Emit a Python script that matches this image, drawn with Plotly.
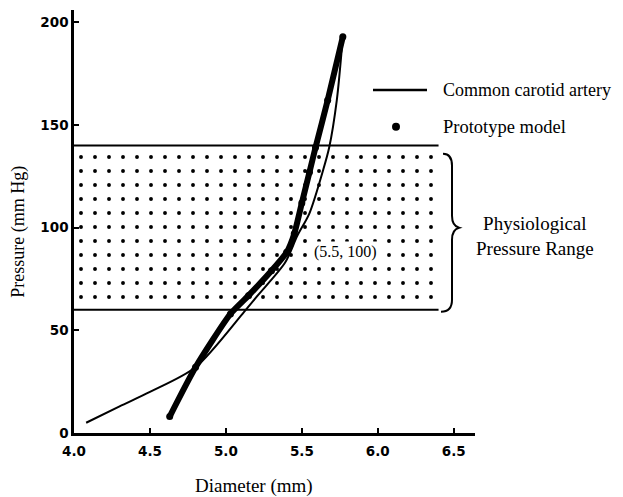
import plotly.graph_objects as go

# ---------------- data ----------------
carotid_diameter = [4.08, 4.30, 4.50, 4.80, 5.12, 5.21, 5.39, 5.47, 5.55, 5.64, 5.68, 5.73, 5.77]
carotid_pressure = [5, 13, 20, 32, 59, 67, 83, 96, 107, 128, 139, 162, 193]

prototype_diameter = [4.63, 4.80, 5.03, 5.15, 5.30, 5.40, 5.45, 5.50, 5.55, 5.59, 5.67, 5.77]
prototype_pressure = [8, 32, 58, 67, 79, 88, 97, 112, 127, 139, 162, 193]

range_low = 60
range_high = 140
range_d_min = 4.0
range_d_max = 6.4

x_ticks = [4.0, 4.5, 5.0, 5.5, 6.0, 6.5]
x_ticklabels = ["4.0", "4.5", "5.0", "5.5", "6.0", "6.5"]
y_ticks = [0, 50, 100, 150, 200]
y_ticklabels = ["0", "50", "100", "150", "200"]

# ---------------- layout helpers ----------------
OFF = 8  # default page body margin
W, H = 623 - OFF, 497 - OFF
ML, MR, MT, MB = 66, 148, 2, 63.5
PW, PH = W - ML - MR, H - MT - MB


def px(xw):
    """window pixel x -> paper coordinate"""
    return (xw - OFF - ML) / PW


def py(yw):
    """window pixel y -> paper coordinate"""
    return (H - MB - (yw - OFF)) / PH


SERIF = "Liberation Serif"

fig = go.Figure()

# physiological pressure range band (dotted)
fig.add_trace(go.Scatter(
    x=[range_d_min, range_d_max, range_d_max, range_d_min, range_d_min],
    y=[range_low, range_low, range_high, range_high, range_low],
    mode="none", fill="toself", fillcolor="white",
    fillpattern=dict(shape=".", fgcolor="black", bgcolor="white", fgopacity=1,
                     size=14, solidity=0.06),
    hoverinfo="skip", showlegend=False,
))
for level in (range_low, range_high):
    fig.add_trace(go.Scatter(
        x=[range_d_min, range_d_max], y=[level, level], mode="lines",
        line=dict(color="black", width=2), hoverinfo="skip", showlegend=False,
    ))

# common carotid artery
fig.add_trace(go.Scatter(
    x=carotid_diameter, y=carotid_pressure, mode="lines",
    line=dict(color="black", width=2, shape="spline", smoothing=0.8),
    name="Common carotid artery", showlegend=False,
))

# prototype model
fig.add_trace(go.Scatter(
    x=prototype_diameter, y=prototype_pressure, mode="lines+markers",
    line=dict(color="black", width=6, shape="spline", smoothing=0.6),
    marker=dict(color="black", size=7),
    name="Prototype model", showlegend=False,
))

shapes = []
annotations = []

# manual legend
shapes.append(dict(type="line", xref="paper", yref="paper",
                   x0=px(373), x1=px(427), y0=py(90), y1=py(90),
                   line=dict(color="black", width=2.5)))
shapes.append(dict(type="circle", xref="paper", yref="paper",
                   x0=px(392), x1=px(400), y0=py(131), y1=py(123),
                   fillcolor="black", line=dict(color="black", width=0)))
annotations.append(dict(xref="paper", yref="paper", x=px(441), y=py(90),
                        xanchor="left", yanchor="middle", showarrow=False,
                        text="Common carotid artery", font=dict(family=SERIF, size=18, color="black")))
annotations.append(dict(xref="paper", yref="paper", x=px(441), y=py(127),
                        xanchor="left", yanchor="middle", showarrow=False,
                        text="Prototype model", font=dict(family=SERIF, size=18.5, color="black")))

# brace
bx = px(452)
brace = (f"M {px(443)} {py(154)} Q {bx} {py(154)} {bx} {py(166)} "
         f"L {bx} {py(216)} Q {bx} {py(226)} {px(459)} {py(228)} "
         f"Q {bx} {py(230)} {bx} {py(240)} "
         f"L {bx} {py(300)} Q {bx} {py(312)} {px(441)} {py(312)}")
shapes.append(dict(type="path", xref="paper", yref="paper", path=brace,
                   line=dict(color="black", width=2)))
annotations.append(dict(xref="paper", yref="paper", x=px(535), y=py(236),
                        xanchor="center", yanchor="middle", showarrow=False,
                        text="Physiological<br>Pressure Range",
                        font=dict(family=SERIF, size=19, color="black")))

# point label
annotations.append(dict(xref="x", yref="y", x=5.79, y=88, showarrow=False,
                        text="(5.5, 100)", font=dict(family=SERIF, size=16, color="black"),
                        bgcolor="white"))

# axis titles
annotations.append(dict(xref="paper", yref="paper", x=px(254), y=py(487),
                        xanchor="center", yanchor="middle", showarrow=False,
                        text="Diameter (mm)", font=dict(family=SERIF, size=19, color="black")))
annotations.append(dict(xref="paper", yref="paper", x=px(19), y=py(232),
                        xanchor="center", yanchor="middle", showarrow=False, textangle=-90,
                        text="Pressure (mm Hg)", font=dict(family=SERIF, size=18, color="black")))

tickfont = dict(family="DejaVu Sans", size=13.5, color="black", weight="bold")

fig.update_layout(
    width=W, height=H,
    margin=dict(l=ML, r=MR, t=MT, b=MB),
    paper_bgcolor="white", plot_bgcolor="white",
    shapes=shapes, annotations=annotations,
    showlegend=False,
    xaxis=dict(range=[4.0, 6.64], showgrid=False, zeroline=False,
               showline=True, linecolor="black", linewidth=2.5,
               ticks="inside", ticklen=5, tickwidth=2, tickcolor="black",
               tickvals=x_ticks, ticktext=x_ticklabels, tickfont=tickfont,
               ticklabelstandoff=4),
    yaxis=dict(range=[0, 206], showgrid=False, zeroline=False,
               showline=True, linecolor="black", linewidth=2.5,
               ticks="inside", ticklen=5, tickwidth=2, tickcolor="black",
               tickvals=y_ticks, ticktext=y_ticklabels, tickfont=tickfont),
)

fig.write_html("out.html")
